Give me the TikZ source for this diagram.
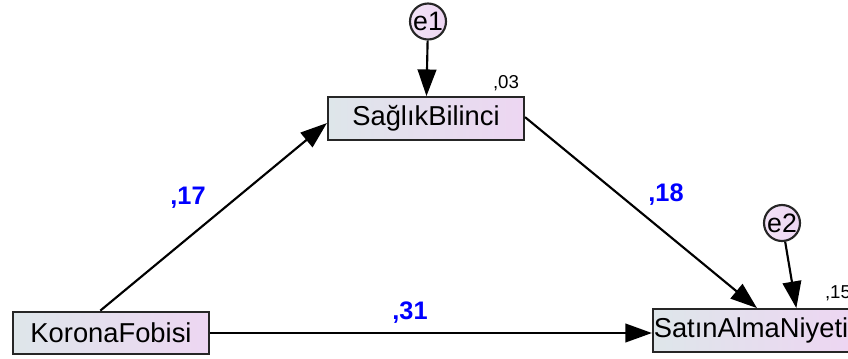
\documentclass[tikz,border=0pt]{standalone}
\usepackage{fontspec}
\setmainfont{Liberation Sans}
\usetikzlibrary{
  arrows.meta,
  positioning
}
\definecolor{boxleft}{HTML}{DEE6EA}
\definecolor{boxright}{HTML}{EDD6F2}

\begin{document}
\begin{tikzpicture}[x=0.75pt, y=-0.75pt,
  var/.style = {shape=rectangle, draw=black!85, line width=1.6pt,
    inner sep=0pt, minimum width=147pt, minimum height=32pt,
    left color=boxleft, right color=boxright,
    font=\fontsize{20.5}{24}\selectfont},
  err/.style = {shape=circle, draw=black!85, line width=1.6pt,
    inner sep=0pt, minimum size=27pt,
    left color=boxright!70!white, right color=boxright,
    font=\fontsize{20}{22}\selectfont},
  coef/.style = {text=blue, font=\bfseries\fontsize{19}{22}\selectfont},
  rsq/.style = {font=\fontsize{14}{16}\selectfont},
  link/.style = {draw=black, line width=1.6pt,
    -{Triangle[length=20pt,width=14pt]}}]
  \useasboundingbox (0,0) rectangle (848,358);

  % variables
  \node[var] (kf)  at (111,333)   {KoronaFobisi};
  \node[var] (sb)  at (426,118.5) {SağlıkBilinci};
  \node[var] (san) at (751,330.5) {SatınAlmaNiyeti};

  % errors
  \node[err] (e1) at (428,21.5) {e1};
  \node[err] (e2) at (782,223)  {e2};

  % paths
  \draw[link] (e1) -- (sb);
  \draw[link] (e2) -- ([xshift=34pt]san.north);
  \draw[link] ([xshift=-8pt]kf.north) -- ([yshift=-3.4pt]sb.west);
  \draw[link] ([yshift=1pt]sb.east) -- ([xshift=4.5pt]san.north);
  \draw[link] (kf.east) -- (san.west |- kf.east);

  % estimates
  \node[coef] (c17) at (188,198) {,17};
  \node[coef] (c18) at (666,195) {,18};
  \node[coef] (c31) at (410,313) {,31};
  \node[rsq] (r03) at (506,83)  {,03};
  \node[rsq] (r15) at (838,293) {,15};
\end{tikzpicture}
\end{document}
